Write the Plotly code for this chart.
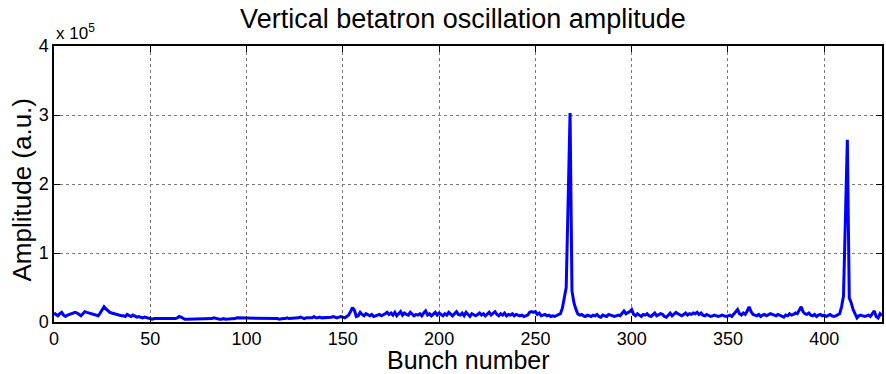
import plotly.graph_objects as go

# Vertical betatron oscillation amplitude per bunch, in thousands (a.u. x 1e3)
amplitude_k = [
    # 0-49
    13, 11, 9, 12, 14, 10, 8, 10, 11, 12,
    13, 14, 13, 11, 9, 12, 15, 14, 13, 12,
    12, 11, 9, 9, 13, 18, 22, 19, 16, 14,
    13, 12, 11, 10, 9, 9, 9, 8, 11, 9,
    8, 10, 8, 7, 8, 7, 6, 7, 6, 5,
    # 50-99
    5, 4, 5, 5, 4, 4, 5, 4, 4, 5,
    4, 4, 4, 5, 6, 8, 7, 5, 4, 4,
    4, 4, 4, 5, 5, 4, 5, 5, 4, 5,
    5, 4, 5, 6, 5, 4, 4, 4, 5, 4,
    4, 4, 4, 4, 5, 6, 6, 6, 6, 5,
    # 100-149
    6, 6, 5, 5, 6, 5, 6, 6, 5, 5,
    6, 5, 6, 5, 5, 6, 5, 4, 5, 5,
    5, 6, 5, 5, 6, 5, 5, 6, 7, 6,
    5, 6, 6, 5, 6, 8, 6, 6, 7, 6,
    6, 7, 7, 6, 7, 8, 7, 6, 7, 8,
    # 150-199
    7, 6, 8, 10, 15, 21, 17, 8, 9, 14,
    11, 9, 12, 10, 9, 11, 8, 9, 10, 11,
    9, 10, 12, 14, 11, 13, 10, 14, 9, 12,
    15, 10, 13, 11, 10, 14, 12, 9, 11, 10,
    12, 9, 13, 16, 10, 12, 9, 11, 14, 10,
    # 200-249
    13, 11, 9, 12, 10, 14, 11, 9, 12, 15,
    11, 10, 13, 9, 14, 11, 8, 12, 10, 9,
    11, 13, 10, 12, 9, 11, 14, 10, 12, 15,
    11, 9, 12, 10, 13, 9, 11, 10, 12, 9,
    11, 10, 9, 10, 8, 9, 10, 14, 15, 14,
    # 250-299
    15, 11, 13, 9, 10, 11, 9, 10, 8, 9,
    8, 9, 10, 12, 20, 35, 50, 175, 303, 45,
    28, 19, 12, 10, 11, 9, 8, 10, 9, 8,
    10, 9, 11, 8, 7, 10, 9, 8, 11, 10,
    9, 8, 9, 10, 9, 12, 16, 12, 13, 15,
    # 300-349
    18, 11, 9, 12, 10, 8, 11, 10, 12, 9,
    8, 11, 13, 9, 10, 12, 11, 8, 7, 10,
    13, 9, 11, 14, 12, 10, 9, 11, 13, 10,
    12, 11, 13, 12, 14, 11, 13, 10, 9, 11,
    10, 8, 9, 10, 9, 8, 9, 10, 9, 8,
    # 350-399
    9, 10, 8, 11, 14, 18, 12, 10, 13, 11,
    16, 22, 15, 11, 10, 9, 11, 8, 10, 11,
    9, 10, 12, 11, 10, 9, 11, 10, 8, 7,
    10, 9, 12, 10, 11, 13, 12, 17, 22, 15,
    12, 11, 13, 10, 9, 11, 8, 10, 11, 9,
    # 400-430
    10, 8, 9, 11, 9, 8, 9, 10, 12, 22,
    38, 150, 264, 35, 28, 18, 12, 6, 9, 10,
    9, 8, 9, 10, 8, 12, 16, 8, 6, 12,
    9,
]
bunch = list(range(len(amplitude_k)))
amplitude = [v * 1000 for v in amplitude_k]

x_ticks = [0, 50, 100, 150, 200, 250, 300, 350, 400]
y_ticks = [0, 100000, 200000, 300000, 400000]
y_tick_text = ["0", "1", "2", "3", "4"]

FONT = "Arial, Liberation Sans, sans-serif"

fig = go.Figure()
fig.add_trace(go.Scatter(
    x=bunch, y=amplitude, mode="lines",
    line=dict(color="#0000FF", width=3),
    showlegend=False, hoverinfo="x+y",
))

axis_common = dict(
    showline=True, linecolor="black", linewidth=1.5, mirror="ticks",
    ticks="inside", ticklen=6, tickcolor="black", tickwidth=1,
    showgrid=True, gridcolor="#7a7a7a", griddash="dot", gridwidth=1,
    zeroline=False,
    tickfont=dict(family=FONT, size=18, color="black"),
)

fig.update_xaxes(range=[0, 430], tickvals=x_ticks, **axis_common)
fig.update_yaxes(range=[0, 400000], tickvals=y_ticks, ticktext=y_tick_text, **axis_common)

fig.update_layout(
    width=886, height=374,
    margin=dict(l=54, r=2, t=46, b=52),
    paper_bgcolor="white", plot_bgcolor="white",
    font=dict(family=FONT, color="black"),
    title=dict(text="Vertical betatron oscillation amplitude",
               x=463 / 886, xref="container", xanchor="center",
               y=1 - 19 / 374, yref="container", yanchor="middle",
               font=dict(family=FONT, size=27, color="black")),
    annotations=[
        dict(text="Bunch number", xref="paper", yref="paper",
             x=0.5, y=0, yshift=-38, xanchor="center", yanchor="middle",
             showarrow=False, font=dict(family=FONT, size=25, color="black")),
        dict(text="Amplitude (a.u.)", xref="paper", yref="paper",
             x=0, xshift=-32, y=0.48, xanchor="center", yanchor="middle",
             textangle=-90, showarrow=False,
             font=dict(family=FONT, size=26, color="black")),
        dict(text="x 10<sup>5</sup>", xref="paper", yref="paper",
             x=0, y=1, yshift=1, xanchor="left", yanchor="bottom",
             showarrow=False, font=dict(family=FONT, size=17, color="black")),
    ],
)

fig.write_html("out.html",
               config={"displayModeBar": False},
               post_script="document.body.style.margin='0';document.body.style.overflow='hidden';")
